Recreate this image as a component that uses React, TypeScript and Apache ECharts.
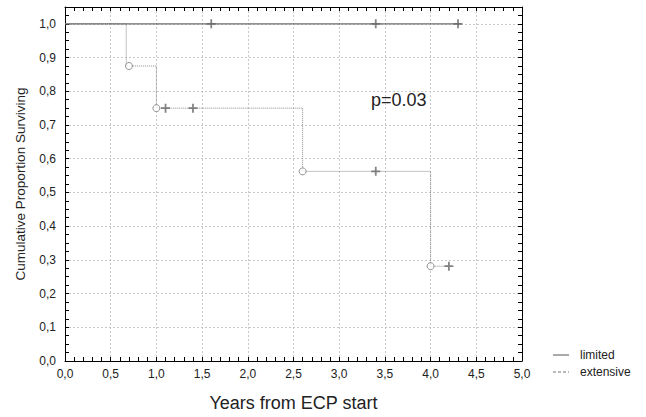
import React, { useEffect, useRef } from "react";
import * as echarts from "echarts";

// Limited group: survival stays 1.0, censored observations
const limitedEnd = 4.33;
const limitedCensorTimes = [1.6, 3.4, 4.3];

// Extensive group: drop times, survival after each drop, circle (event) marks, censored observations
const extensiveDropTimes = [0.67, 1.0, 2.6, 4.0];
const extensiveSurvival = [0.875, 0.75, 0.5625, 0.28125];
const extensiveEventTimes = [0.7, 1.0, 2.6, 4.0];
const extensiveEnd = 4.2;
const extensiveCensorTimes = [1.1, 1.4, 3.4, 4.2];
const extensiveCensorSurv = [0.75, 0.75, 0.5625, 0.28125];

const FONT = "'Liberation Sans', Arial, sans-serif";
const PLUS = "path://M4,0h2v4h4v2h-4v4h-2v-4h-4v-2h4z";

export default function App() {
  const ref = useRef<HTMLDivElement>(null);
  useEffect(() => {
    if (!ref.current) return;
    const chart = echarts.init(ref.current, undefined, { renderer: "svg" });

    const limitedLine = [[0, 1], [limitedEnd, 1]];
    const extLine: number[][] = [[0, 1]];
    let prev = 1;
    extensiveDropTimes.forEach((t, i) => {
      extLine.push([t, prev]);
      extLine.push([t, extensiveSurvival[i]]);
      prev = extensiveSurvival[i];
    });
    extLine.push([extensiveEnd, prev]);

    const fmt = (v: number) => v.toFixed(1).replace(".", ",");

    const tickCommon = {
      axisLine: { show: true, onZero: false, lineStyle: { color: "#000", width: 1 } },
      axisTick: { show: true, inside: true, length: 4, lineStyle: { color: "#000" } },
    };

    chart.setOption({
      animation: false,
      grid: { left: 65, top: 7, right: 124, bottom: 51 },
      xAxis: [
        {
          type: "value",
          min: 0,
          max: 5,
          interval: 0.5,
          ...tickCommon,
          minorTick: { show: true, splitNumber: 5, length: 4, lineStyle: { color: "#000" } },
          axisLabel: { formatter: fmt, color: "#222", fontSize: 12, fontFamily: FONT, margin: 7 },
          splitLine: { show: true, lineStyle: { color: "#c8c8c8", type: [2, 2], width: 1 } },
          name: "Years from ECP start",
          nameLocation: "middle",
          nameGap: 33,
          nameTextStyle: { fontSize: 18, color: "#222", fontFamily: FONT },
        },
        {
          type: "value",
          position: "top",
          min: 0,
          max: 5,
          interval: 0.5,
          ...tickCommon,
          minorTick: { show: true, splitNumber: 5, length: 4, lineStyle: { color: "#000" } },
          axisLabel: { show: false },
          splitLine: { show: false },
        },
      ],
      yAxis: [
        {
          type: "value",
          min: 0,
          max: 1.05,
          interval: 0.1,
          ...tickCommon,
          minorTick: { show: true, splitNumber: 4, length: 4, lineStyle: { color: "#000" } },
          axisLabel: {
            formatter: (v: number) => (v > 1.001 ? "" : fmt(v)),
            color: "#222",
            fontSize: 12,
            fontFamily: FONT,
            margin: 9,
          },
          splitLine: { show: true, lineStyle: { color: "#c8c8c8", type: [2, 2], width: 1 } },
          name: "Cumulative Proportion Surviving",
          nameLocation: "middle",
          nameGap: 38,
          nameRotate: 90,
          nameTextStyle: { fontSize: 13.5, color: "#222", fontFamily: FONT },
        },
        {
          type: "value",
          position: "right",
          min: 0,
          max: 1.05,
          interval: 0.1,
          ...tickCommon,
          minorTick: { show: true, splitNumber: 4, length: 4, lineStyle: { color: "#000" } },
          axisLabel: { show: false },
          splitLine: { show: false },
        },
      ],
      series: [
        {
          name: "extensive",
          type: "line",
          data: extLine,
          showSymbol: false,
          symbol: "none",
          lineStyle: { color: "#8a8a8a", width: 1, type: [1, 1] },
          z: 2,
        },
        {
          name: "limited",
          type: "line",
          data: limitedLine,
          showSymbol: false,
          symbol: "none",
          lineStyle: { color: "#6e6e6e", width: 1.2 },
          z: 3,
        },
        {
          name: "extensive events",
          type: "scatter",
          data: extensiveEventTimes.map((t, i) => [t, extensiveSurvival[i]]),
          symbol: "circle",
          symbolSize: 7,
          itemStyle: { color: "#fff", borderColor: "#777", borderWidth: 1 },
          z: 4,
        },
        {
          name: "extensive censored",
          type: "scatter",
          data: extensiveCensorTimes.map((t, i) => [t, extensiveCensorSurv[i]]),
          symbol: PLUS,
          symbolSize: 9,
          itemStyle: { color: "#666" },
          z: 5,
        },
        {
          name: "limited censored",
          type: "scatter",
          data: limitedCensorTimes.map((t) => [t, 1]),
          symbol: PLUS,
          symbolSize: 9,
          itemStyle: { color: "#666" },
          z: 5,
        },
      ],
      graphic: [
        {
          type: "text",
          left: 371,
          top: 91,
          style: { text: "p=0.03", fontSize: 18, fill: "#222", fontFamily: FONT },
        },
        {
          type: "line",
          shape: { x1: 553, y1: 355, x2: 569, y2: 355 },
          style: { stroke: "#555", lineWidth: 1 },
        },
        {
          type: "text",
          x: 580,
          y: 355,
          style: { text: "limited", fontSize: 12, fill: "#222", fontFamily: FONT, verticalAlign: "middle" },
        },
        {
          type: "line",
          shape: { x1: 553, y1: 372, x2: 569, y2: 372 },
          style: { stroke: "#777", lineWidth: 1, lineDash: [3, 2] },
        },
        {
          type: "text",
          x: 580,
          y: 372,
          style: { text: "extensive", fontSize: 12, fill: "#222", fontFamily: FONT, verticalAlign: "middle" },
        },
      ],
    });
    return () => chart.dispose();
  }, []);
  return (
    <div
      ref={ref}
      style={{ position: "absolute", left: 0, top: 0, width: 646, height: 417, background: "#fff" }}
    />
  );
}
